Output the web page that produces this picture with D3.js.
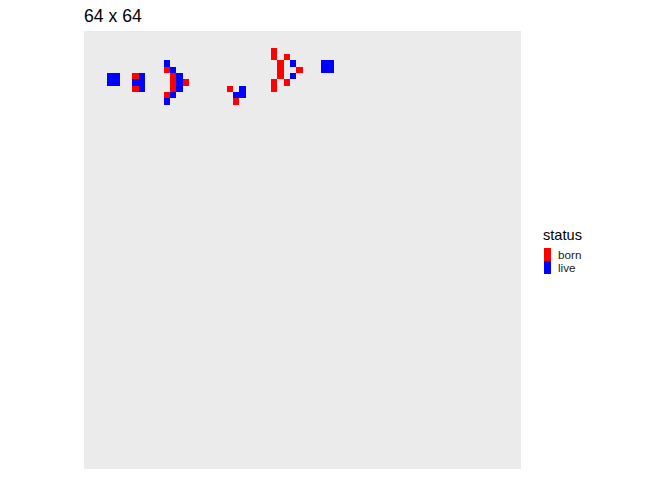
<!DOCTYPE html>
<html>
<head>
<meta charset="utf-8">
<script src="https://cdn.jsdelivr.net/npm/d3@7"></script>
<style>
  html, body { margin: 0; padding: 0; background: #ffffff; }
  svg { display: block; font-family: "Liberation Sans", Arial, sans-serif; }
</style>
</head>
<body>
<svg id="chart" width="672" height="480"></svg>
<script>
// Grid size and title
const gridSize = 64;
const chartTitle = "64 x 64";

// Cells (column, row from top) and their status
const cellCols = [2, 3, 2, 3, 7, 6, 7, 7, 11, 12, 13, 13, 13, 12, 11, 23, 22, 23, 31, 31, 36, 37, 36, 37,
                  6, 6, 11, 12, 12, 12, 14, 11, 21, 22, 28, 28, 30, 29, 29, 29, 32, 28, 28, 30];
const cellRows = [5, 5, 6, 6, 5, 6, 6, 7, 3, 4, 5, 6, 7, 8, 9, 7, 8, 8, 3, 5, 3, 3, 4, 4,
                  5, 7, 4, 5, 6, 7, 6, 8, 7, 9, 1, 2, 2, 3, 4, 5, 4, 6, 7, 6];
const cellStatus = ["live","live","live","live","live","live","live","live","live","live","live","live",
                    "live","live","live","live","live","live","live","live","live","live","live","live",
                    "born","born","born","born","born","born","born","born","born","born","born","born",
                    "born","born","born","born","born","born","born","born"];

const statusLevels = ["born", "live"];
const statusColors = ["#FF0000", "#0000FF"];

const cells = cellCols.map((c, i) => ({ col: c, row: cellRows[i], status: cellStatus[i] }));

const svg = d3.select("#chart");
const panel = { left: 84, top: 31, right: 521, bottom: 469 };

// continuous scale with limits 1..64 and 5% expansion (ggplot default)
const pad = (gridSize - 1) * 0.05;
const x = d3.scaleLinear().domain([1 - pad, gridSize + pad]).range([panel.left, panel.right]);
const y = d3.scaleLinear().domain([1 - pad, gridSize + pad]).range([panel.top, panel.bottom]);
const color = d3.scaleOrdinal().domain(statusLevels).range(statusColors);

// panel background
svg.append("rect")
  .attr("x", panel.left).attr("y", panel.top)
  .attr("width", panel.right - panel.left).attr("height", panel.bottom - panel.top)
  .attr("fill", "#EBEBEB");

// tiles
svg.append("g").attr("shape-rendering", "crispEdges")
  .selectAll("rect").data(cells).join("rect")
  .attr("x", d => x(d.col - 0.5))
  .attr("y", d => y(d.row - 0.5))
  .attr("width", d => x(d.col + 0.5) - x(d.col - 0.5))
  .attr("height", d => y(d.row + 0.5) - y(d.row - 0.5))
  .attr("fill", d => color(d.status));

// title
svg.append("text")
  .attr("x", 84).attr("y", 22)
  .attr("font-size", "17.6px")
  .attr("fill", "#000")
  .text(chartTitle);

// legend
const lg = svg.append("g").attr("transform", "translate(543,0)");
lg.append("text")
  .attr("x", 0).attr("y", 240)
  .attr("font-size", "14.6px")
  .attr("fill", "#000")
  .text("status");
statusLevels.forEach((s, i) => {
  lg.append("rect")
    .attr("x", 1).attr("y", 248 + i * 13)
    .attr("width", 7).attr("height", 13)
    .attr("fill", color(s))
    .attr("shape-rendering", "crispEdges");
  lg.append("text")
    .attr("x", 15).attr("y", 259 + i * 13)
    .attr("font-size", "11.7px")
    .attr("fill", "#1a1a1a")
    .text(s);
});
</script>
</body>
</html>
